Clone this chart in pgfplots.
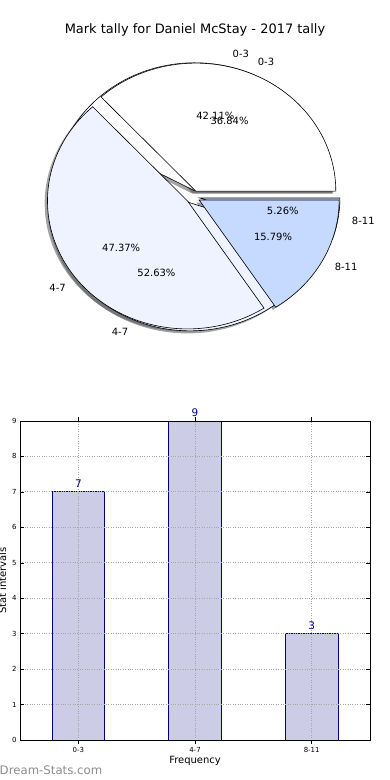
\documentclass[border=0pt]{standalone}
\usepackage{fontspec}
\setmainfont{DejaVu Sans}
\usepackage{pgfplots}
\pgfplotsset{compat=1.18}
\definecolor{cA}{HTML}{FFFFFF}
\definecolor{cB}{HTML}{EEF3FF}
\definecolor{cC}{HTML}{C6D9FF}
\definecolor{barfill}{HTML}{CCCCE6}
\definecolor{baredge}{HTML}{000080}
\definecolor{wm}{HTML}{8C8C8C}

% wedge: #1 start angle, #2 end angle, #3 fill colour
\newcommand\pieWedge[3]{%
 \pgfmathsetmacro\pwmid{(#1+#2)/2}%
 \pgfmathsetmacro\pwdx{0.05*cos(\pwmid)}%
 \pgfmathsetmacro\pwdy{0.05*sin(\pwmid)}%
 \edef\pwcmd{\noexpand\addplot[draw=black, line width=0.6bp, fill=#3, domain=#1:#2, samples=90] ({\pwdx+cos(x)},{\pwdy+sin(x)}) -- (axis cs:\pwdx,\pwdy) -- cycle;}%
 \pwcmd}
% shadow: offset (-0.02,-0.02)
\newcommand\pieShadow[3]{%
 \pgfmathsetmacro\pwmid{(#1+#2)/2}%
 \pgfmathsetmacro\pwdx{0.05*cos(\pwmid)-0.02}%
 \pgfmathsetmacro\pwdy{0.05*sin(\pwmid)-0.02}%
 \edef\pwcmd{\noexpand\addplot[draw=none, fill=#3!30!black, fill opacity=0.5, domain=#1:#2, samples=90] ({\pwdx+cos(x)},{\pwdy+sin(x)}) -- (axis cs:\pwdx,\pwdy) -- cycle;}%
 \pwcmd}
% labels: #1 start, #2 end, #3 name, #4 percent
\newcommand\pieLabels[4]{%
 \pgfmathsetmacro\pwmid{(#1+#2)/2}%
 \pgfmathsetmacro\plx{1.15*cos(\pwmid)}%
 \pgfmathsetmacro\ply{1.15*sin(\pwmid)}%
 \pgfmathsetmacro\ppx{0.65*cos(\pwmid)}%
 \pgfmathsetmacro\ppy{0.65*sin(\pwmid)}%
 \pgfmathparse{cos(\pwmid)>0 ? 1 : 0}%
 \ifnum\pgfmathresult=1\def\pwanc{west}\else\def\pwanc{east}\fi
 \edef\pwcmd{\noexpand\node[anchor=\pwanc, inner sep=0pt, font=\noexpand\fontsize{10}{12}\noexpand\selectfont] at (axis cs:\plx,\ply) {#3};
 \noexpand\node[inner sep=0pt, font=\noexpand\fontsize{10}{12}\noexpand\selectfont] at (axis cs:\ppx,\ppy) {#4};}%
 \pwcmd}

\begin{document}
\begin{tikzpicture}
\path[use as bounding box] (0,0) rectangle (390bp,780bp);
% pie values
\def\pA{7}\def\pB{9}\def\pC{3}
\def\qA{8}\def\qB{10}\def\qC{1}
\pgfmathsetmacro\aOne{\pA/(\pA+\pB+\pC)*360}
\pgfmathsetmacro\aTwo{(\pA+\pB)/(\pA+\pB+\pC)*360}
\pgfmathsetmacro\bOne{\qA/(\qA+\qB+\qC)*360}
\pgfmathsetmacro\bTwo{(\qA+\qB)/(\qA+\qB+\qC)*360}

\node[font=\fontsize{13}{15}\selectfont] at (195bp,750bp) {Mark tally for Daniel McStay - 2017 tally};

\begin{axis}[at={(193bp,583bp)}, anchor=origin, x=140bp, y=128bp,
  xmin=-1.4, xmax=1.4, ymin=-1.4, ymax=1.4, hide axis, clip=false]
 \pieShadow{0}{\bOne}{cA}
 \pieShadow{\bOne}{\bTwo}{cB}
 \pieShadow{\bTwo}{360}{cC}
 \pieShadow{0}{\aOne}{cA}
 \pieShadow{\aOne}{\aTwo}{cB}
 \pieShadow{\aTwo}{360}{cC}
 \pieWedge{0}{\bOne}{cA}
 \pieWedge{\bOne}{\bTwo}{cB}
 \pieWedge{\bTwo}{360}{cC}
 \pieWedge{0}{\aOne}{cA}
 \pieWedge{\aOne}{\aTwo}{cB}
 \pieWedge{\aTwo}{360}{cC}
 \pieLabels{0}{\bOne}{0-3}{42.11\%}
 \pieLabels{\bOne}{\bTwo}{4-7}{52.63\%}
 \pieLabels{\bTwo}{360}{8-11}{5.26\%}
 \pieLabels{0}{\aOne}{0-3}{36.84\%}
 \pieLabels{\aOne}{\aTwo}{4-7}{47.37\%}
 \pieLabels{\aTwo}{360}{8-11}{15.79\%}
\end{axis}

\begin{axis}[at={(20bp,40bp)}, anchor=south west, scale only axis,
  width=350bp, height=319bp,
  xmin=-0.5, xmax=2.5, ymin=0, ymax=9,
  xtick={0,1,2}, xticklabels={0-3,4-7,8-11}, ytick={0,1,...,9},
  grid=major, grid style={black!35, dotted, line width=0.9bp},
  axis on top, tick align=inside, major tick length=4bp,
  tick style={black, line width=0.5bp},
  axis line style={black, line width=0.8bp},
  /pgf/number format/assume math mode=true,
  ticklabel style={font=\fontsize{7}{8}\selectfont},
  xlabel={Frequency}, ylabel={Stat intervals},
  label style={font=\fontsize{10}{12}\selectfont},
  xlabel style={yshift=3bp},
  ylabel style={yshift=-1bp},
  ybar, bar width=52.5bp,
  nodes near coords,
  nodes near coords style={text=baredge, font=\fontsize{10.5}{12}\selectfont, inner sep=1.5bp, yshift=2.5bp},
  ]
 \addplot[fill=barfill, draw=baredge, line width=0.8bp] coordinates {(0,7) (1,9) (2,3)};
\end{axis}
\node[anchor=west, inner sep=0pt, text=wm, font=\fontsize{11.8}{13}\selectfont] at (-0.5bp,10bp) {Dream-Stats.com};
\end{tikzpicture}
\end{document}
